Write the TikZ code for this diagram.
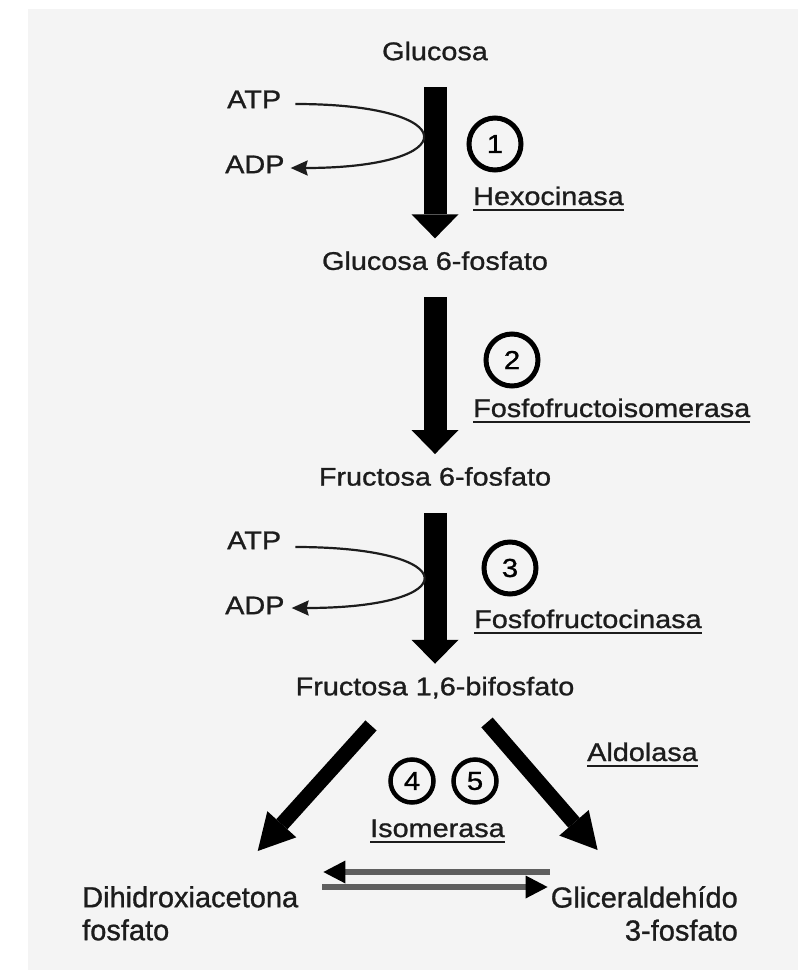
\documentclass[tikz,border=0pt]{standalone}
\usepackage{fontspec}
\setmainfont{Liberation Sans}[FakeStretch=1.13,FakeBold=1]
\newfontfamily\plainsans{Liberation Sans}[FakeBold=1]
\usetikzlibrary{arrows.meta,positioning}
\definecolor{ink}{RGB}{28,28,28}
\definecolor{paper}{RGB}{244,244,244}
\definecolor{eqgray}{RGB}{95,95,95}
% enzyme names are underlined with a heavier rule than \underline gives
\newcommand{\enzul}[1]{\vtop{\hbox{#1}\kern3.5pt\hrule height 2.3pt}}

\begin{document}
\begin{tikzpicture}[
  x=1pt, y=-1pt, node distance=191pt,
  txt/.style={font=\fontsize{25.5}{30}\selectfont, text=ink, inner sep=0pt},
  met/.style={txt, text height=18.3pt, text depth=0pt},
  enz/.style={txt, anchor=base west},
  prod/.style={font=\plainsans\fontsize{29}{33}\selectfont, text=ink, inner sep=0pt},
  num/.style={circle, draw, line width=5pt, minimum size=52pt, inner sep=0pt, font=\fontsize{26}{30}\selectfont},
  smallnum/.style={num, line width=4.5pt, minimum size=43pt},
  mainarr/.style={line width=23pt, -{Triangle[length=24pt,width=47pt,line width=0pt]}, shorten <=27pt, shorten >=13pt},
  splitarr/.style={line width=15pt, -{Triangle[length=36pt,width=39pt,line width=0pt]}},
  eqarr/.style={draw=eqgray, line width=6.5pt, -{Triangle[length=22pt,width=23pt,line width=0pt,color=black]}},
  cofarr/.style={draw=ink, line width=2.2pt, -{Stealth[length=17pt,width=15pt,inset=2pt]}}]
  \useasboundingbox (0,0) rectangle (798,972);
  \fill[paper] (28,9) rectangle (798,970);

  % main chain
  \node[met] (glc) at (435,51) {Glucosa};
  \node[met, below=of glc] (g6p) {Glucosa 6-fosfato};
  \node[met, below=197pt of g6p] (f6p) {Fructosa 6-fosfato};
  \node[met, below=of f6p] (f16bp) {Fructosa 1,6-bifosfato};
  \node[prod, text width=217pt, align=left, anchor=north west] (dhap) at (82,886) {Dihidroxiacetona\\fosfato};
  \node[prod, text width=188pt, align=right, anchor=north east] (gap) at (738,886) {Gliceraldehído\\3-fosfato};

  % steps and enzymes
  \node[num] (s1) at (495,144) {1};
  \node[num] (s2) at (512,360) {2};
  \node[num] (s3) at (510,568) {3};
  \node[smallnum] (s4) at (412,781) {4};
  \node[smallnum] (s5) at (475,781) {5};
  \node[enz] (hk) at (473,205) {\enzul{Hexocinasa}};
  \node[enz] (pgi) at (473,417) {\enzul{Fosfofructoisomerasa}};
  \node[enz] (pfk) at (474,628) {\enzul{Fosfofructocinasa}};
  \node[enz] (ald) at (587,761) {\enzul{Aldolasa}};
  \node[enz] (tpi) at (370,837) {\enzul{Isomerasa}};

  % ATP spent in steps 1 and 3
  \node[met, anchor=west] (atp1) at (227,99) {ATP};
  \node[met, anchor=west] (adp1) at (225,164) {ADP};
  \node[met, anchor=west] (atp2) at (227,540) {ATP};
  \node[met, anchor=west] (adp2) at (225,605) {ADP};

  \draw[mainarr] (glc) -- (g6p);
  \draw[mainarr] (g6p) -- (f6p);
  \draw[mainarr] (f6p) -- (f16bp);
  \draw[cofarr] ([xshift=14pt,yshift=-5pt]atp1.east) .. controls +(170,0) and +(175,0) .. ([xshift=6pt,yshift=-4pt]adp1.east);
  \draw[cofarr] ([xshift=14pt,yshift=-7pt]atp2.east) .. controls +(170,0) and +(175,0) .. ([xshift=7pt,yshift=-3pt]adp2.east);

  \draw[splitarr] ([xshift=-64pt,yshift=-30pt]f16bp.south) -- ([xshift=67pt,yshift=35pt]dhap.north);
  \draw[splitarr] ([xshift=52pt,yshift=-27pt]f16bp.south) -- ([xshift=48pt,yshift=36pt]gap.north west);
  \draw[eqarr] ([yshift=14pt]gap.north west) -- ([xshift=24pt,yshift=14pt]dhap.north east);
  \draw[eqarr] ([xshift=23pt,yshift=-1pt]dhap.north east) -- ([xshift=-2pt,yshift=-1pt]gap.north west);
\end{tikzpicture}
\end{document}
